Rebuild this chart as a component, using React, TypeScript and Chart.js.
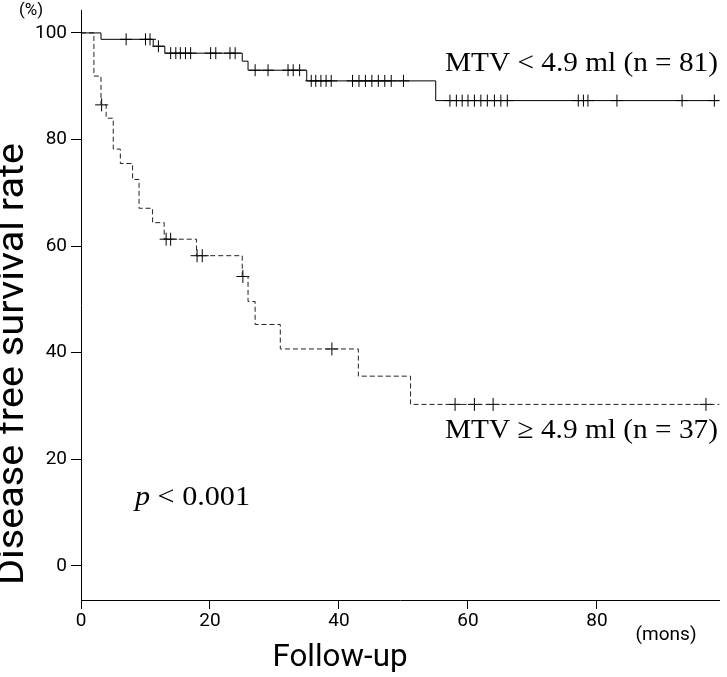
import React, { useEffect, useRef } from 'react';
import { Chart, registerables } from 'chart.js';

Chart.register(...registerables);

// MTV < 4.9 ml (n = 81): event times (months) and survival (%) after each step
const lowTimes = [0, 3.1, 11.2, 13.0, 25.0, 25.9, 35.0, 55.0, 99];
const lowSurv = [100, 98.8, 97.5, 96.2, 94.7, 93.0, 91.0, 87.3, 87.3];
// censored observations (months)
const lowCensor = [
  7.0, 10.0, 10.7, 12.0, 13.9, 14.7, 15.4, 16.2, 17.0, 20.1, 20.9, 23.1, 23.9,
  27.0, 29.0, 32.1, 32.9, 33.9, 35.7, 36.4, 37.2, 38.0, 38.8, 42.1, 43.1, 44.1,
  45.1, 46.1, 47.1, 48.1, 50.0, 57.2, 58.2, 59.1, 60.0, 61.0, 62.0, 63.0, 64.1,
  65.1, 66.1, 77.1, 77.9, 78.6, 83.1, 93.2, 98.2,
];

// MTV >= 4.9 ml (n = 37)
const highTimes = [0, 2.0, 3.1, 3.9, 5.0, 6.1, 8.0, 9.0, 11.1, 12.9, 17.9, 25.0, 25.9, 27.0, 30.9, 43.0, 51.1, 99];
const highSurv = [100, 91.9, 86.5, 84.0, 78.2, 75.5, 72.5, 67.1, 64.4, 61.3, 58.2, 54.3, 49.6, 45.3, 40.7, 35.6, 30.3, 30.3];
const highCensor = [3.2, 13.2, 13.9, 18.0, 18.8, 25.1, 38.9, 58.0, 61.0, 63.9, 96.9];

const yTickValues = [0, 20, 40, 60, 80, 100];
const xTickValues = [0, 20, 40, 60, 80];

const labelLow = 'MTV < 4.9 ml (n = 81)';
const labelHigh = 'MTV ≥ 4.9 ml (n = 37)';
const yTitle = 'Disease free survival rate';
const xTitle = 'Follow-up';
const yUnit = '(%)';
const xUnit = '(mons)';

function levelAt(times: number[], surv: number[], t: number): number {
  let v = surv[0];
  for (let i = 0; i < times.length; i++) if (times[i] <= t) v = surv[i];
  return v;
}

function drawText(
  ctx: CanvasRenderingContext2D,
  text: string,
  x: number,
  y: number,
  font: string,
  align: CanvasTextAlign,
  baseline: CanvasTextBaseline,
  targetWidth?: number,
  rotate?: number
) {
  ctx.save();
  ctx.translate(x, y);
  if (rotate) ctx.rotate(rotate);
  ctx.font = font;
  ctx.textAlign = align;
  ctx.textBaseline = baseline;
  if (targetWidth) {
    const w = ctx.measureText(text).width;
    ctx.scale(targetWidth / w, 1);
  }
  ctx.fillText(text, 0, 0);
  ctx.restore();
}

const textPlugin = {
  id: 'texts',
  afterDraw(chart: any) {
    const ctx: CanvasRenderingContext2D = chart.ctx;
    ctx.save();
    ctx.fillStyle = '#000';
    const sans = 'Roboto, "Noto Sans", sans-serif';
    const serif = '"Liberation Serif", "DejaVu Serif", serif';
    drawText(ctx, yUnit, 31, 11, `17px ${sans}`, 'center', 'middle');
    drawText(ctx, xUnit, 666, 635, `18px ${sans}`, 'center', 'middle', 61);
    drawText(ctx, xTitle, 340, 658, `31px ${sans}`, 'center', 'middle', 135);
    drawText(ctx, yTitle, 14, 364, `36px ${sans}`, 'center', 'middle', 442, -Math.PI / 2);
    drawText(ctx, labelLow, 445, 71, `28px ${serif}`, 'left', 'alphabetic', 273);
    drawText(ctx, labelHigh, 445, 438, `28px ${serif}`, 'left', 'alphabetic', 273);
    // p-value
    ctx.font = `italic 28px ${serif}`;
    const pw = ctx.measureText('p').width;
    ctx.font = `28px ${serif}`;
    const rest = ' < 0.001';
    const rw = ctx.measureText(rest).width;
    const sc = 115 / (pw + rw);
    ctx.save();
    ctx.translate(135, 505);
    ctx.scale(sc, 1);
    ctx.textBaseline = 'alphabetic';
    ctx.textAlign = 'left';
    ctx.font = `italic 28px ${serif}`;
    ctx.fillText('p', 0, 0);
    ctx.font = `28px ${serif}`;
    ctx.fillText(rest, pw, 0);
    ctx.restore();
    ctx.restore();
  },
};

export default function App() {
  const ref = useRef<HTMLCanvasElement | null>(null);
  useEffect(() => {
    if (!ref.current) return;
    const lowLine = lowTimes.map((t, i) => ({ x: t, y: lowSurv[i] }));
    const highLine = highTimes.map((t, i) => ({ x: t, y: highSurv[i] }));
    const lowPts = lowCensor.map((t) => ({ x: t, y: levelAt(lowTimes, lowSurv, t) }));
    const highPts = highCensor.map((t) => ({ x: t, y: levelAt(highTimes, highSurv, t) }));
    const chart = new Chart(ref.current, {
      type: 'scatter',
      data: {
        datasets: [
          {
            label: labelLow,
            data: lowLine,
            showLine: true,
            stepped: 'before',
            borderColor: '#000',
            borderWidth: 1,
            pointRadius: 0,
          },
          {
            label: labelHigh,
            data: highLine,
            showLine: true,
            stepped: 'before',
            borderColor: '#222',
            borderWidth: 1,
            borderDash: [5, 3],
            pointRadius: 0,
          },
          {
            label: 'censor low',
            data: lowPts,
            showLine: false,
            pointStyle: 'cross',
            pointRadius: 6,
            borderColor: '#000',
            borderWidth: 1,
          },
          {
            label: 'censor high',
            data: highPts,
            showLine: false,
            pointStyle: 'cross',
            pointRadius: 6.5,
            borderColor: '#000',
            borderWidth: 1,
          },
        ],
      },
      options: {
        animation: false,
        responsive: false,
        devicePixelRatio: 1,
        layout: { padding: { top: 10, right: 1, left: 0, bottom: 0 } },
        plugins: {
          legend: { display: false },
          tooltip: { enabled: false },
          title: { display: false },
        },
        scales: {
          x: {
            type: 'linear',
            min: 0,
            max: 99,
            afterFit: (s: any) => {
              s.height = 77;
              s.paddingLeft = 0;
              s.paddingRight = 0;
            },
            afterBuildTicks: (s: any) => {
              s.ticks = xTickValues.map((v) => ({ value: v }));
            },
            ticks: {
              autoSkip: false,
              maxRotation: 0,
              color: '#000',
              padding: 1,
              font: { family: 'Roboto', size: 19 },
            },
            grid: {
              drawOnChartArea: false,
              drawTicks: true,
              tickLength: 9,
              color: '#000',
            },
            border: { display: true, color: '#000', width: 1 },
          },
          y: {
            type: 'linear',
            min: -6.4,
            max: 104.3,
            afterFit: (s: any) => {
              s.width = 81;
              s.paddingTop = 0;
              s.paddingBottom = 0;
            },
            afterBuildTicks: (s: any) => {
              s.ticks = yTickValues.map((v) => ({ value: v }));
            },
            ticks: {
              autoSkip: false,
              color: '#000',
              padding: 4,
              font: { family: 'Roboto', size: 19 },
            },
            grid: {
              drawOnChartArea: false,
              drawTicks: true,
              tickLength: 10,
              color: '#000',
            },
            border: { display: true, color: '#000', width: 1 },
          },
        },
      },
      plugins: [textPlugin],
    });
    return () => chart.destroy();
  }, []);
  return (
    <div style={{ position: 'fixed', left: 0, top: 0, width: 727, height: 677, background: '#fff' }}>
      <canvas ref={ref} width={727} height={677} style={{ display: 'block' }} />
    </div>
  );
}
